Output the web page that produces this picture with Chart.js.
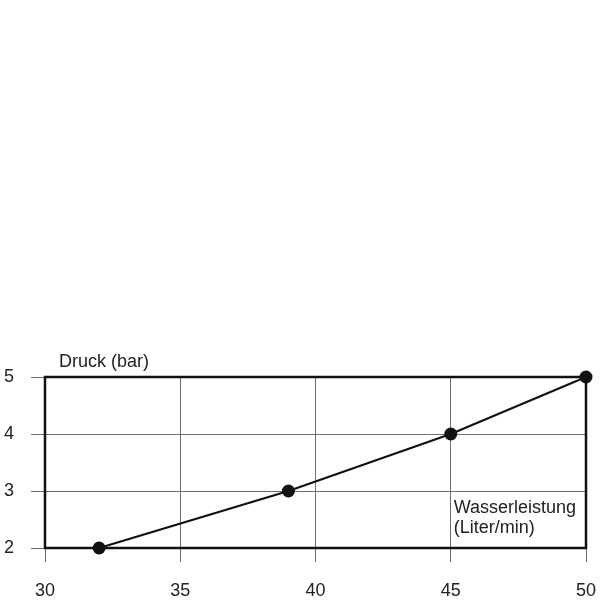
<!DOCTYPE html>
<html>
<head>
<meta charset="utf-8">
<script src="https://cdn.jsdelivr.net/npm/chart.js@4/dist/chart.umd.min.js"></script>
<style>
  html, body { margin: 0; padding: 0; background: #fff; }
  #wrap { width: 600px; height: 600px; }
</style>
</head>
<body>
<div id="wrap"><canvas id="chart"></canvas></div>
<script>
// Messwerte: Wasserleistung (Liter/min) gegen Druck (bar)
const wasserleistung = [32, 39, 45, 50];
const druck = [2, 3, 4, 5];
const xTickWerte = [30, 35, 40, 45, 50];
const yTickWerte = [2, 3, 4, 5];
const yTitel = 'Druck (bar)';
const xTitel = ['Wasserleistung', '(Liter/min)'];

const schrift = '"Liberation Sans", Arial, sans-serif';
const gitterFarbe = '#6e6e6e';

// Rahmen um die Zeichenfläche und Achsenbeschriftungen
const rahmenPlugin = {
    id: 'rahmen',
    afterDraw(chart) {
        const { ctx, chartArea: a, scales } = chart;
        ctx.save();
        ctx.strokeStyle = '#111';
        ctx.lineWidth = 2.5;
        ctx.strokeRect(a.left, a.top, a.right - a.left, a.bottom - a.top);

        ctx.fillStyle = '#222';
        ctx.font = '18px ' + schrift;
        ctx.textAlign = 'left';
        ctx.textBaseline = 'alphabetic';
        ctx.fillText(yTitel, a.left + 14, a.top - 10);

        const x0 = scales.x.getPixelForValue(45) + 3;
        ctx.fillText(xTitel[0], x0, scales.y.getPixelForValue(3) + 22);
        ctx.fillText(xTitel[1], x0, scales.y.getPixelForValue(3) + 42);
        ctx.restore();
    }
};

new Chart(document.getElementById('chart'), {
    type: 'scatter',
    data: {
        datasets: [{
            data: wasserleistung.map((x, i) => ({ x: x, y: druck[i] })),
            showLine: true,
            borderColor: '#111',
            borderWidth: 2.2,
            pointRadius: 6.5,
            pointHoverRadius: 6.5,
            pointBackgroundColor: '#111',
            pointBorderWidth: 0,
            clip: false
        }]
    },
    options: {
        responsive: true,
        maintainAspectRatio: false,
        animation: false,
        layout: { padding: { top: 377, right: 14, left: 0, bottom: 0 } },
        plugins: {
            legend: { display: false },
            tooltip: { enabled: false }
        },
        scales: {
            x: {
                type: 'linear',
                min: 30,
                max: 50,
                afterBuildTicks: s => { s.ticks = xTickWerte.map(v => ({ value: v })); },
                afterFit: s => { s.height = 52; s.paddingLeft = 0; s.paddingRight = 0; },
                grid: { color: gitterFarbe, lineWidth: 1, tickLength: 14, tickColor: gitterFarbe },
                border: { display: false },
                ticks: { color: '#222', font: { size: 18, family: schrift }, padding: 18, maxRotation: 0 }
            },
            y: {
                min: 2,
                max: 5,
                afterBuildTicks: s => { s.ticks = yTickWerte.map(v => ({ value: v })); },
                afterFit: s => { s.width = 45; s.paddingTop = 0; s.paddingBottom = 0; },
                grid: { color: gitterFarbe, lineWidth: 1, tickLength: 14, tickColor: gitterFarbe },
                border: { display: false },
                ticks: { color: '#222', font: { size: 18, family: schrift }, padding: 17 }
            }
        }
    },
    plugins: [rahmenPlugin]
});
</script>
</body>
</html>
